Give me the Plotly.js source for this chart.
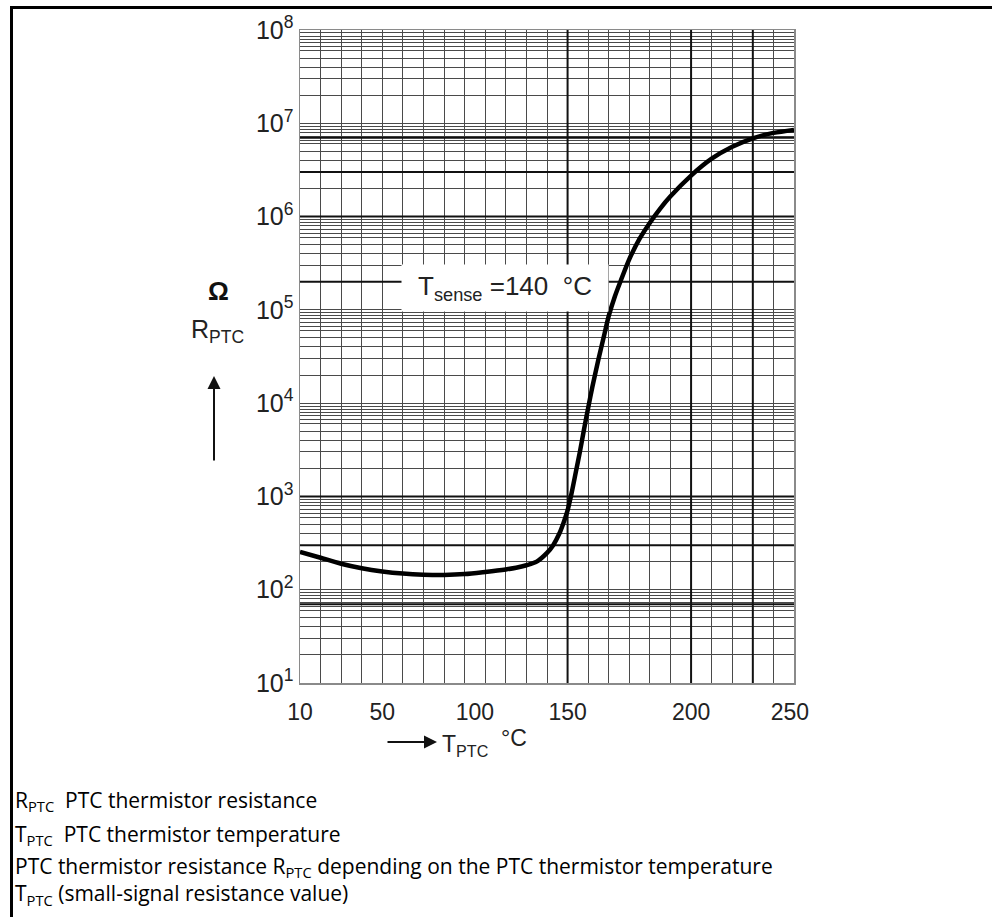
<!DOCTYPE html>
<html>
<head>
<meta charset="utf-8">
<script src="https://cdn.plot.ly/plotly-3.0.1.min.js"></script>
<style>
html,body{margin:0;padding:0;background:#fff;}
#chart{width:992px;height:917px;}
</style>
</head>
<body>
<div id="chart"></div>
<script>
// ---- data ----
var temps = [10, 20, 30, 40, 50, 60, 70, 80, 90, 100, 110, 115, 120, 125, 130, 133, 136, 138, 140, 142, 144, 146, 148, 150, 152, 155, 158, 160, 163, 166, 170, 175, 180, 185, 190, 200, 210, 220, 230, 240, 250];
var resistance = [255, 220, 190, 170, 157, 149, 145, 144, 147, 155, 165, 172, 183, 200, 248, 300, 400, 520, 708, 1100, 1820, 3020, 5250, 8900, 14800, 29500, 56000, 86000, 140000, 210000, 350000, 580000, 860000, 1220000, 1650000, 2750000, 4170000, 5600000, 6900000, 7900000, 8500000];

var xTickVals = [10, 50, 95, 140, 200, 248];
var xTickText = ["10", "50", "100", "150", "200", "250"];
var yTickVals = [1e1, 1e2, 1e3, 1e4, 1e5, 1e6, 1e7, 1e8];
var yTickText = ["10<sup>1</sup>", "10<sup>2</sup>", "10<sup>3</sup>", "10<sup>4</sup>", "10<sup>5</sup>", "10<sup>6</sup>", "10<sup>7</sup>", "10<sup>8</sup>"];
var gridMantissas = [2, 3, 4, 5, 6, 6.6, 7.3, 8, 8.6, 9.3];
var boldR = [70, 300, 1000, 200000, 1000000, 3000000, 7000000];
var boldT = [140, 200, 230];

// ---- layout helpers ----
var L = 300, R = 794, T = 30, B = 683;
function px(x) { return (x - L) / (R - L); }
function py(y) { return (B - y) / (B - T); }

var yMinorVals = [];
yTickVals.slice(0, -1).forEach(function (d) {
  gridMantissas.forEach(function (m) { yMinorVals.push(m * d); });
});

var chartFont = '"Liberation Sans", Arial, sans-serif';
var noteFont = '"Open Sans", "Noto Sans", sans-serif';
var gridCol = '#4a4a4a';

var traces = [
  {
    x: temps, y: resistance, type: 'scatter', mode: 'lines',
    line: {color: '#000', width: 4.5, shape: 'spline', smoothing: 0.8},
    hoverinfo: 'skip', showlegend: false, xaxis: 'x', yaxis: 'y'
  },
  {
    x: [], y: [], type: 'scatter', mode: 'lines', xaxis: 'x2', yaxis: 'y',
    hoverinfo: 'skip', showlegend: false
  }
];

var shapes = [];
boldR.forEach(function (r) {
  shapes.push({type: 'line', xref: 'x', yref: 'y', x0: 10, x1: 250, y0: r, y1: r,
    line: {color: '#111', width: 2}, layer: 'between'});
});
boldT.forEach(function (t) {
  shapes.push({type: 'line', xref: 'x', yref: 'y', x0: t, x1: t, y0: 10, y1: 1e8,
    line: {color: '#111', width: 2}, layer: 'between'});
});
// outer frame (top and left)
shapes.push({type: 'line', xref: 'paper', yref: 'paper', x0: px(10), x1: px(995), y0: py(7.5), y1: py(7.5), line: {color: '#000', width: 3}});
shapes.push({type: 'line', xref: 'paper', yref: 'paper', x0: px(11.5), x1: px(11.5), y0: py(6), y1: py(920), line: {color: '#000', width: 3}});

function note(x, y, text, font, xanchor) {
  return {xref: 'paper', yref: 'paper', x: px(x), y: py(y), text: text, showarrow: false,
    xanchor: xanchor || 'center', yanchor: 'middle', align: 'left', font: font};
}
var fChart = {family: chartFont, size: 23, color: '#222'};
var fNote = {family: noteFont, size: 21, color: '#000'};

var annotations = [
  {xref: 'paper', yref: 'paper', x: px(505), y: py(288), text: 'T<sub>sense</sub> =140  °C',
   xanchor: 'center', yanchor: 'middle',
   showarrow: false, bgcolor: '#fff', width: 204, height: 44,
   font: {family: chartFont, size: 26, color: '#222'}},
  note(218, 291, '<b>Ω</b>', {family: chartFont, size: 26, color: '#111'}),
  note(217, 331, 'R<sub>PTC</sub>', {family: chartFont, size: 25, color: '#222'}),
  {xref: 'paper', yref: 'paper', x: px(214), y: py(376), ax: px(214), ay: py(462), axref: 'paper', ayref: 'paper',
   text: '', showarrow: true, arrowhead: 2, arrowsize: 1.3, arrowwidth: 2, arrowcolor: '#111'},
  {xref: 'paper', yref: 'paper', x: px(437), y: py(742), ax: px(386), ay: py(742), axref: 'paper', ayref: 'paper',
   text: '', showarrow: true, arrowhead: 2, arrowsize: 1.3, arrowwidth: 2, arrowcolor: '#111'},
  note(440, 745, 'T<sub>PTC</sub>', fChart, 'left'),
  note(499, 738, '°C', fChart, 'left'),
  note(13, 801, 'R<sub>PTC</sub>  PTC thermistor resistance', fNote, 'left'),
  note(13, 835, 'T<sub>PTC</sub>  PTC thermistor temperature', fNote, 'left'),
  note(13, 881, 'PTC thermistor resistance R<sub>PTC</sub> depending on the PTC thermistor temperature<br>T<sub>PTC</sub> (small-signal resistance value)', fNote, 'left')
];

var layout = {
  width: 992, height: 917,
  margin: {l: L, r: 992 - R, t: T, b: 917 - B, pad: 0},
  paper_bgcolor: '#fff', plot_bgcolor: '#fff',
  showlegend: false,
  xaxis: {
    type: 'linear', range: [10, 250], tick0: 10, dtick: 10, showticklabels: false,
    showgrid: true, gridcolor: gridCol, gridwidth: 1, zeroline: false,
    showline: true, mirror: true, linecolor: '#8a8a8a', linewidth: 1.5, ticks: ''
  },
  xaxis2: {
    overlaying: 'x', anchor: 'y', side: 'bottom', range: [10, 250], tickmode: 'array',
    tickvals: xTickVals, ticktext: xTickText, showgrid: false, zeroline: false, showline: false,
    ticks: '', ticklabelstandoff: 13, tickfont: fChart
  },
  yaxis: {
    type: 'log', range: [1, 8], tickmode: 'array', tickvals: yTickVals, ticktext: yTickText,
    showgrid: true, gridcolor: gridCol, gridwidth: 1, zeroline: false,
    minor: {tickmode: 'array', tickvals: yMinorVals, showgrid: true, gridcolor: gridCol, gridwidth: 1, ticks: ''},
    showline: true, mirror: true, linecolor: '#8a8a8a', linewidth: 1.5, ticks: '',
    ticklabelstandoff: 0, tickfont: {family: chartFont, size: 25, color: '#222'}
  },
  shapes: shapes,
  annotations: annotations
};

Plotly.newPlot('chart', traces, layout, {staticPlot: true, displayModeBar: false});
</script>
</body>
</html>
